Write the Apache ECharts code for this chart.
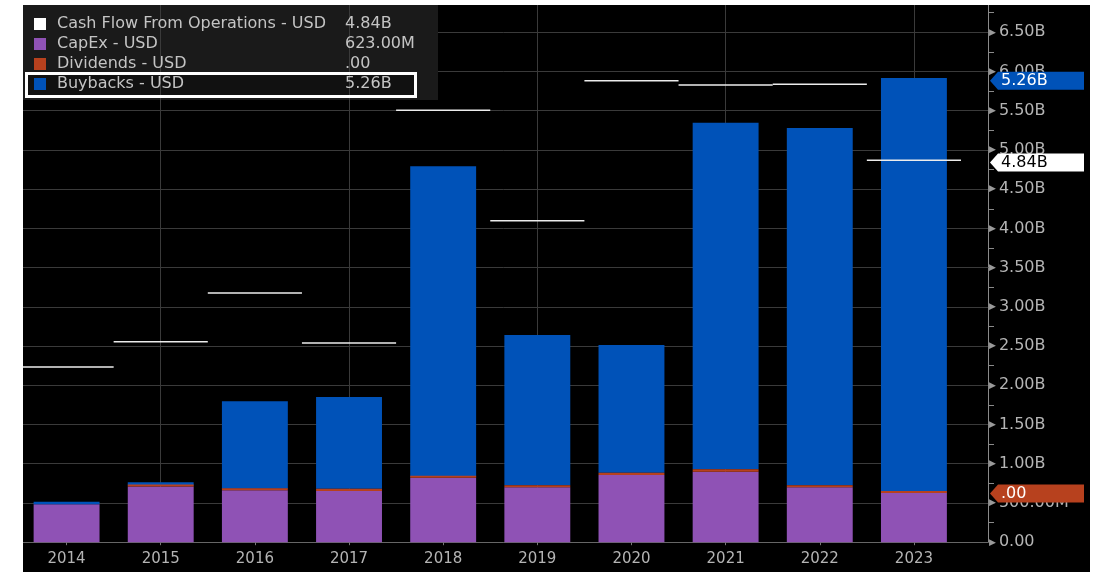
<!DOCTYPE html>
<html>
<head>
<meta charset="utf-8">
<script src="https://cdn.jsdelivr.net/npm/echarts@6/dist/echarts.min.js"></script>
<style>
  html, body { margin: 0; padding: 0; background: #fff; width: 1097px; height: 572px; overflow: hidden; }
  #frame { position: absolute; left: 23px; top: 5px; width: 1067px; height: 567px; background: #000; overflow: hidden; }
  #chart { position: absolute; left: -20px; top: -20px; width: 1107px; height: 607px; }
</style>
</head>
<body>
<div id="frame"><div id="chart"></div></div>
<script>
// Annual cash usage, values in billions of USD
const years = ['2014', '2015', '2016', '2017', '2018', '2019', '2020', '2021', '2022', '2023'];
const cashFlowOps = [2.22, 2.54, 3.16, 2.525, 5.475, 4.075, 5.85, 5.795, 5.805, 4.84];
const capex = [0.480, 0.705, 0.658, 0.649, 0.818, 0.696, 0.852, 0.894, 0.696, 0.623];
const dividends = [null, 0.015, 0.020, 0.030, 0.013, 0.025, 0.029, 0.030, 0.025, 0];
const buybacks = [0.033, 0.040, 1.110, 1.160, 3.933, 1.905, 1.618, 4.393, 4.529, 5.260];

const NAME_CFO = 'Cash Flow From Operations - USD';
const NAME_CAPEX = 'CapEx - USD';
const NAME_DIV = 'Dividends - USD';
const NAME_BUY = 'Buybacks - USD';

const COLOR_CAPEX = '#8f52b5';
const COLOR_DIV = '#b7411e';
const COLOR_BUY = '#0052b8';
const GRID_COLOR = '#3a3a3a';
const FONT = 'DejaVu Sans';

function axisFmt(v) {
  if (v === 0) return '0.00';
  if (v < 1) return (v * 1000).toFixed(2) + 'M';
  return v.toFixed(2) + 'B';
}
function valueFmt(v) {
  if (!v) return '.00';
  if (v < 1) return (v * 1000).toFixed(2) + 'M';
  return v.toFixed(2) + 'B';
}

const last = years.length - 1;
const latestText = {};
latestText[NAME_CFO] = valueFmt(cashFlowOps[last]);
latestText[NAME_CAPEX] = valueFmt(capex[last]);
latestText[NAME_DIV] = valueFmt(dividends[last]);
latestText[NAME_BUY] = valueFmt(buybacks[last]);

// stacked levels of the latest period, used for the tags on the value axis
const topBuy = capex[last] + (dividends[last] || 0) + buybacks[last];
const topDiv = capex[last] + (dividends[last] || 0);

// vertical guides on every other year
const guideYears = years.filter((y, i) => i % 2 === 1);

const chart = echarts.init(document.getElementById('chart'), null, { renderer: 'canvas' });

const tagPath = 'path://M0,9L8,0L94,0L94,18L8,18Z';

function tag(value, fill, textColor, text) {
  return {
    yAxis: value,
    lineStyle: { color: fill, width: 0 },
    label: { show: true, position: 'end', distance: 13, color: textColor, fontSize: 16, fontFamily: FONT, formatter: text }
  };
}

chart.setOption({
  animation: false,
  grid: [
    { left: 16.5, right: 122, top: 4.9, bottom: 49.8 },
    { left: 16.5, right: 149, top: 4.9, bottom: 49.8 }
  ],
  graphic: [
    { type: 'rect', shape: { x: 20, y: 20, width: 415, height: 95 }, style: { fill: '#1a1a1a' }, z: 1 },
    { type: 'rect', shape: { x: 23.5, y: 88.5, width: 389, height: 23 }, style: { fill: '#111' }, z: 1.1 },
    { type: 'rect', shape: { x: 23.5, y: 88.5, width: 389, height: 23 }, style: { fill: 'none', stroke: '#fff', lineWidth: 3 }, z: 3 }
  ],
  legend: {
    orient: 'vertical',
    left: 20,
    top: 20,
    padding: [11, 12, 7, 11],
    itemWidth: 12,
    itemHeight: 12,
    itemGap: 4,
    icon: 'rect',
    selectedMode: false,
    z: 4,
    data: [NAME_CFO, NAME_CAPEX, NAME_DIV, NAME_BUY],
    formatter: name => '{n|' + name + '}{v|' + latestText[name] + '}',
    textStyle: {
      color: '#c4c4c4', fontFamily: FONT, fontSize: 16,
      rich: {
        n: { width: 288, padding: [0, 0, 0, 6], color: '#c4c4c4', fontFamily: FONT, fontSize: 16 },
        v: { color: '#c4c4c4', fontFamily: FONT, fontSize: 16 }
      }
    }
  },
  xAxis: [
    {
      type: 'category', gridIndex: 0, data: years,
      axisLine: { show: true, lineStyle: { color: '#666' } },
      axisTick: { show: false }, axisLabel: { show: false }, splitLine: { show: false }
    },
    {
      type: 'category', gridIndex: 1, data: years, z: 1.5,
      axisLine: { show: false },
      axisTick: { show: true, alignWithLabel: true, length: 3, lineStyle: { color: '#777' } },
      axisLabel: { color: '#b4b4b4', fontFamily: FONT, fontSize: 15, margin: 9 },
      splitLine: { show: false }
    }
  ],
  yAxis: [
    {
      type: 'value', gridIndex: 0, position: 'right', min: 0, max: 7, interval: 0.5, z: 0,
      axisLine: { show: true, lineStyle: { color: '#8a8a8a' } },
      axisTick: { show: false },
      minorTick: { show: true, splitNumber: 2, length: 6, lineStyle: { color: '#8a8a8a' } },
      splitLine: { show: true, lineStyle: { color: GRID_COLOR } },
      axisLabel: {
        margin: 1,
        formatter: v => '{t|\u25B6}{l|' + axisFmt(v) + '}',
        rich: {
          t: { fontSize: 9, color: '#9a9a9a', fontFamily: FONT, padding: [0, 3, 0, 0] },
          l: { fontSize: 16, color: '#b4b4b4', fontFamily: FONT }
        }
      }
    },
    { type: 'value', gridIndex: 1, min: 0, max: 7, interval: 0.5, show: false }
  ],
  series: [
    {
      name: 'guides', type: 'line', xAxisIndex: 1, yAxisIndex: 1, z: 1.5, silent: true,
      data: years.map(() => null),
      markLine: {
        silent: true, animation: false, z: 1.5,
        symbol: ['none', 'none'],
        label: { show: false },
        lineStyle: { color: GRID_COLOR, width: 1, type: 'solid' },
        emphasis: { disabled: true },
        data: guideYears.map(y => ({ xAxis: y }))
      }
    },
    {
      name: NAME_CAPEX, type: 'bar', xAxisIndex: 1, yAxisIndex: 1, stack: 'uses',
      barWidth: '70%', data: capex, itemStyle: { color: COLOR_CAPEX }
    },
    {
      name: NAME_DIV, type: 'bar', xAxisIndex: 1, yAxisIndex: 1, stack: 'uses',
      barWidth: '70%', barMinHeight: 2, z: 3, data: dividends, itemStyle: { color: COLOR_DIV }
    },
    {
      name: NAME_BUY, type: 'bar', xAxisIndex: 1, yAxisIndex: 1, stack: 'uses',
      barWidth: '70%', data: buybacks, itemStyle: { color: COLOR_BUY }
    },
    {
      name: NAME_CFO, type: 'custom', xAxisIndex: 1, yAxisIndex: 1, z: 5,
      itemStyle: { color: '#fff' },
      data: years.map((y, i) => [i, cashFlowOps[i]]),
      renderItem: function (params, api) {
        const p = api.coord([api.value(0), api.value(1)]);
        const w = api.size([1, 0])[0];
        return {
          type: 'line',
          shape: { x1: p[0] - w / 2, y1: p[1], x2: p[0] + w / 2, y2: p[1] },
          style: { stroke: '#ececec', lineWidth: 1.5 }
        };
      }
    },
    {
      name: 'tags', type: 'line', xAxisIndex: 0, yAxisIndex: 0, z: 10, silent: true,
      data: years.map(() => null),
      markLine: {
        silent: true,
        animation: false,
        z: 10,
        symbol: ['none', tagPath],
        symbolSize: 94,
        symbolKeepAspect: true,
        symbolRotate: 0,
        symbolOffset: [0, [49, 0]],
        emphasis: { disabled: true },
        data: [
          tag(topDiv, COLOR_DIV, '#fff', latestText[NAME_DIV]),
          tag(cashFlowOps[last], '#fff', '#000', latestText[NAME_CFO]),
          tag(topBuy, COLOR_BUY, '#fff', latestText[NAME_BUY])
        ]
      }
    }
  ]
});
</script>
</body>
</html>
